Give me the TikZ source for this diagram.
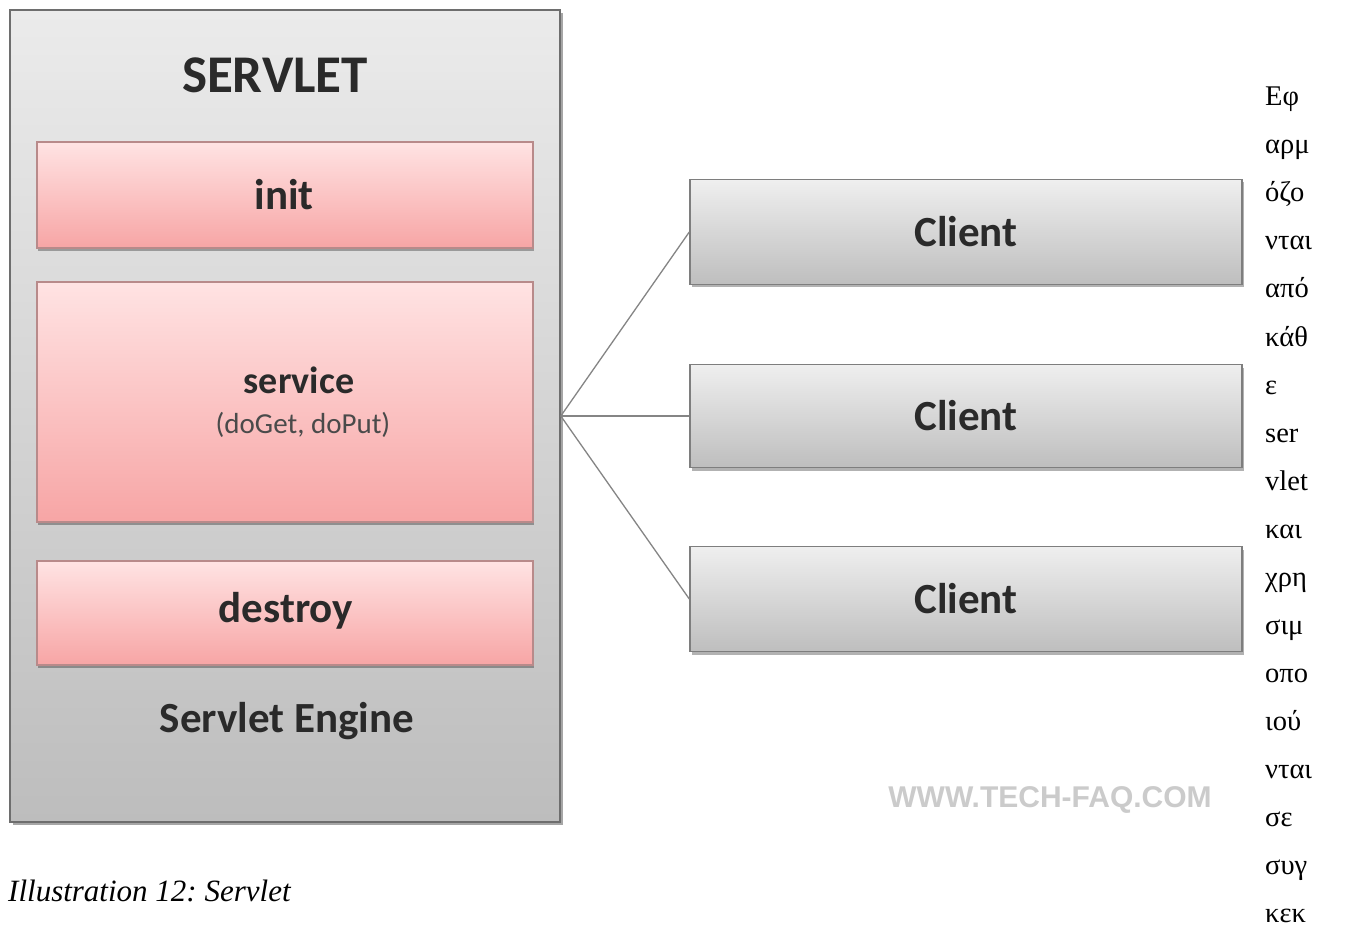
\documentclass[tikz,border=0pt]{standalone}
\usepackage{fontspec}
\setmainfont{Liberation Serif}
\newfontfamily\diag{Carlito}
\newfontfamily\wmfont{Liberation Sans}
\usetikzlibrary{shadows}
\frenchspacing
\definecolor{outerborder}{HTML}{6E6E6E}
\definecolor{outertop}{HTML}{EBEBEB}
\definecolor{outerbot}{HTML}{BDBDBD}
\definecolor{pinktop}{HTML}{FFE3E3}
\definecolor{pinkbot}{HTML}{F7A5A5}
\definecolor{pinkborder}{HTML}{B88A8A}
\definecolor{clienttop}{HTML}{EFEFEF}
\definecolor{clientbot}{HTML}{BEBEBE}
\definecolor{clientborder}{HTML}{7E7E7E}
\definecolor{linegray}{HTML}{858585}
\definecolor{wmgray}{HTML}{CBCBCB}
\definecolor{textdark}{HTML}{2A2A2A}
\tikzset{
  outerbox/.style={draw=outerborder, line width=1.6pt, top color=outertop, bottom color=outerbot,
    minimum width=550pt, minimum height=812pt, inner sep=0pt,
    drop shadow={shadow xshift=3pt, shadow yshift=-3pt, opacity=0.35, fill=black}},
  pinkbox/.style={draw=pinkborder, line width=1.2pt, top color=pinktop, bottom color=pinkbot,
    minimum width=496pt, inner sep=0pt,
    drop shadow={shadow xshift=1pt, shadow yshift=-3pt, opacity=0.3, fill=black}},
  clientbox/.style={draw=clientborder, line width=1.4pt, top color=clienttop, bottom color=clientbot,
    minimum width=552pt, inner sep=0pt, font=\diag\bfseries\fontsize{43}{50}\selectfont, text=textdark,
    drop shadow={shadow xshift=2pt, shadow yshift=-3pt, opacity=0.3, fill=black}},
  lbl/.style={font=\diag\bfseries\fontsize{43}{50}\selectfont, text=textdark, inner sep=0pt},
  conn/.style={draw=linegray, line width=1.3pt},
  greek/.style={anchor=base west, inner sep=0pt, font=\fontsize{28.5}{48}\selectfont},
}
\begin{document}
\begin{tikzpicture}[x=1pt,y=-1pt]
\fill[white] (0,0) rectangle (1350,928);
\useasboundingbox (0,0) rectangle (1350,928);

% outer servlet engine box
\node[outerbox] (outer) at (285,416) {};
\node[lbl, font=\diag\bfseries\fontsize{53}{60}\selectfont] (title) at (275,75) {SERVLET};

\node[pinkbox, minimum height=106pt] (init) at (285,195) {};
\node[lbl] (initl) at (284,195) {init};

\node[pinkbox, minimum height=240pt] (service) at (285,402) {};
\node[lbl, font=\diag\bfseries\fontsize{38}{44}\selectfont] (servl) at (299,380) {service};
\node[inner sep=0pt, font=\diag\fontsize{29}{34}\selectfont, text=textdark!85] (servsub) at (303,425) {(doGet, doPut)};

\node[pinkbox, minimum height=104pt] (destroy) at (285,613) {};
\node[lbl] (destroyl) at (286,611) {destroy};

\node[lbl] (engine) at (287,721) {Servlet Engine};

% clients
\node[clientbox, minimum height=105pt] (c1) at (966,232) {Client};
\node[clientbox, minimum height=103pt] (c2) at (966,416) {Client};
\node[clientbox, minimum height=105pt] (c3) at (966,599) {Client};

% connectors
\coordinate (hub) at (outer.east |- c2.west);
\draw[conn] (hub) -- (c1.west);
\draw[conn, line width=2pt] (hub) -- (c2.west);
\draw[conn] (hub) -- (c3.west);

% watermark
\node[inner sep=0pt, text=wmgray, font=\wmfont\bfseries\fontsize{30}{32}\selectfont] (wm) at (1050,800) {WWW.TECH-FAQ.COM};

% caption
\node[anchor=base west, inner sep=0pt, font=\itshape\fontsize{31}{36}\selectfont] (cap) at (8,901) {Illustration 12: Servlet};

% Greek column
\foreach \w [count=\i] in {Εφ,αρμ,όζο,νται,από,κάθ,ε,ser,vlet,και,χρη,σιμ,οπο,ιού,νται,σε,συγ,κεκ} {
  \node[greek] (g\i) at (1265,{106+48*(\i-1)}) {\w};
}
\end{tikzpicture}
\end{document}
